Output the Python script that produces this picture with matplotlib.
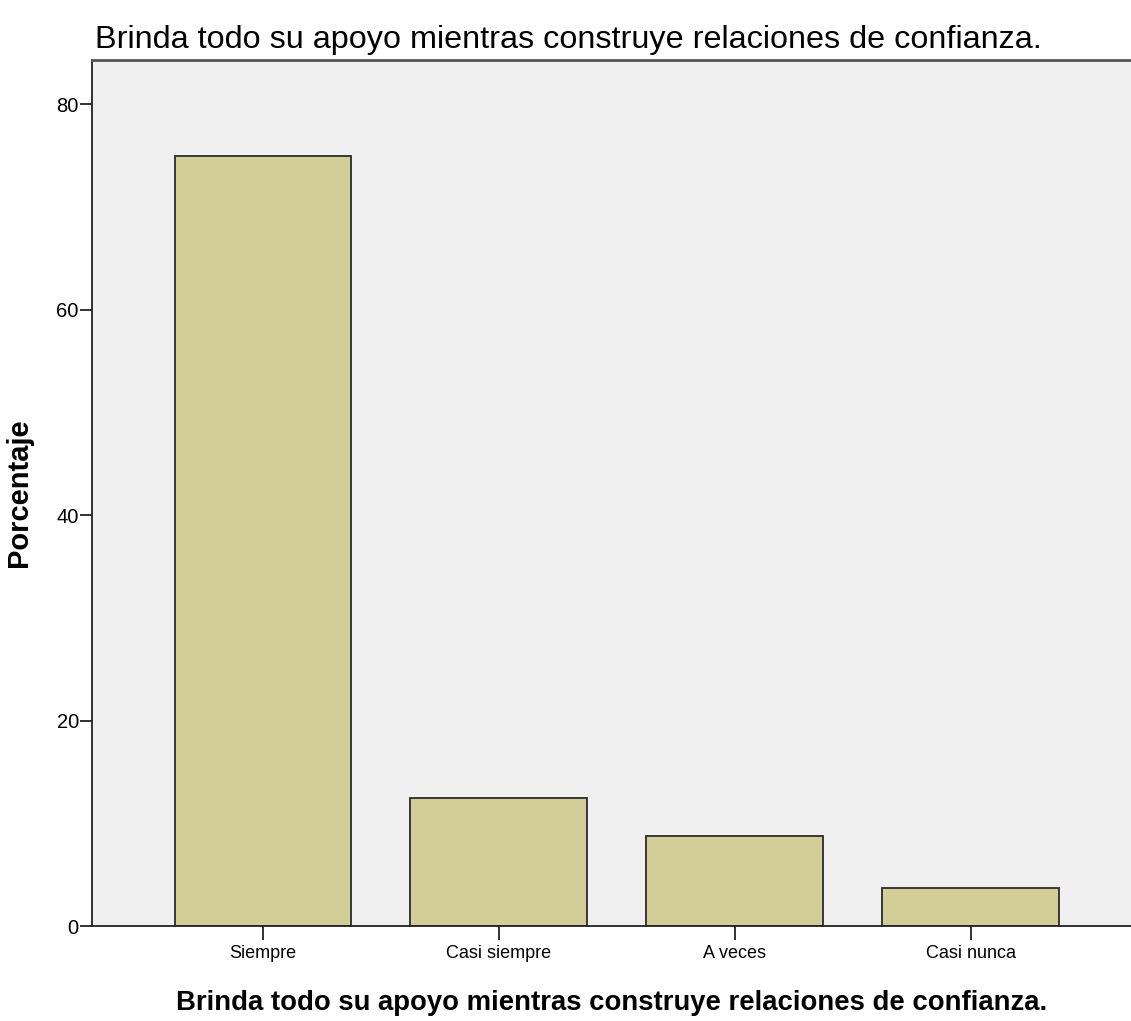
import matplotlib.pyplot as plt
import numpy as np

categories = ['Siempre', 'Casi siempre', 'A veces', 'Casi nunca']
porcentaje = [75.0, 12.5, 8.75, 3.75]
y_ticks = [0, 20, 40, 60, 80]

titulo = 'Brinda todo su apoyo mientras construye relaciones de confianza.'

plt.rcParams['font.family'] = ['Liberation Sans', 'DejaVu Sans']

fig = plt.figure(figsize=(11.31, 10.21), dpi=100)
ax = fig.add_axes([0.0813, 0.093, 0.9187, 0.848])
ax.set_facecolor('#F0F0F0')

x = np.arange(len(categories))
ax.bar(x, porcentaje, width=0.75, color='#D3CE97', edgecolor='#2b2b2b', linewidth=1.3, zorder=2)

ax.set_xlim(-0.725, 3.68)
ax.set_ylim(0, 84.3)
ax.set_xticks(x)
ax.set_xticklabels(categories, fontsize=13)
ax.set_yticks(y_ticks)
ax.set_yticklabels([str(t) for t in y_ticks], fontsize=14.5)
ax.tick_params(axis='y', length=8.5, width=1.3, color='#222222', pad=1)
ax.tick_params(axis='x', length=10, width=1.3, color='#222222', pad=4)

for side in ['left', 'bottom']:
    ax.spines[side].set_linewidth(1.3)
    ax.spines[side].set_color('#222222')
ax.spines['right'].set_visible(False)
ax.spines['top'].set_color('#555555')
ax.spines['top'].set_linewidth(2)

ax.set_title(titulo, fontsize=23.3, loc='left', x=0.003, pad=9)
ax.set_xlabel(titulo, fontsize=19.8, fontweight='bold', labelpad=20)
ax.set_ylabel('Porcentaje', fontsize=21, fontweight='bold')
ax.yaxis.set_label_coords(-0.057, 0.5)

fig.savefig('out.png', dpi=100)
